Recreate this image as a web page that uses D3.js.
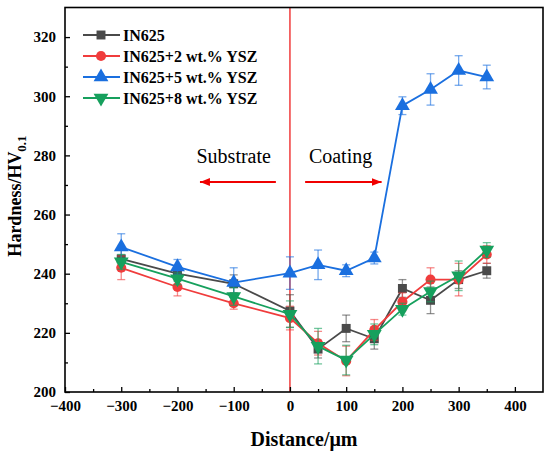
<!DOCTYPE html>
<html>
<head>
<meta charset="utf-8">
<script src="https://cdn.jsdelivr.net/npm/d3@7"></script>
<style>
  body { margin: 0; background: #fff; }
  svg { display: block; font-family: "Liberation Serif", "Times New Roman", serif; }
</style>
</head>
<body>
<script>
// distances (um) and hardness values
var distance = [-300, -200, -100, 0, 50, 100, 150, 200, 250, 300, 350];
var in625   = [245, 240, 236.6, 227.4, 214.5, 221.5, 218, 235, 231, 238, 241];
var ysz2    = [242, 235.5, 230, 225, 216.5, 210.5, 221, 230.5, 238, 238, 246.5];
var ysz5    = [249, 242.3, 237, 240.2, 243, 241, 245.3, 296.8, 302.3, 308.7, 306.5];
var ysz8    = [244, 238.3, 232.3, 226.3, 215.5, 210.8, 219.5, 228, 234, 239.3, 248];
var err625  = [3, 2.5, 3, 5.5, 3, 4.5, 3.5, 3, 4.5, 3, 2.5];
var err2    = [4, 3, 2, 4, 4, 5, 3.5, 3, 4, 5.5, 3];
var err5    = [4.5, 2.5, 5, 5.5, 5, 2, 2, 3, 5.3, 5, 4];
var err8    = [2.5, 2, 3, 4.5, 6, 5, 3.5, 2, 3.5, 5, 2.5];
var seriesNames = ["IN625", "IN625+2 wt.% YSZ", "IN625+5 wt.% YSZ", "IN625+8 wt.% YSZ"];
var xTicks = [-400, -300, -200, -100, 0, 100, 200, 300, 400];
var yTicks = [200, 220, 240, 260, 280, 300, 320];

// annotation: region labels and arrows (data units)
var regionLabels = ["Substrate", "Coating"];
var regionLabelX = [-100, 90];
var arrowFrom = [-25, 27];
var arrowTo = [-160, 163];
var labelY = 277.5, arrowY = 271;

var W = 550, H = 456;
var margin = {top: 7.5, right: 7, bottom: 64, left: 65},
    width = W - margin.left - margin.right,
    height = H - margin.top - margin.bottom;

var x = d3.scaleLinear().domain([-400, 450]).range([0, width]);
var y = d3.scaleLinear().domain([200, 330]).range([height, 0]);

var colors = ["#4a4a4a", "#f03c3c", "#1a6fdf", "#16a05d"];
var symbols = [d3.symbolSquare, d3.symbolCircle, d3.symbolTriangle, d3.symbolTriangle];
var symSize = [80, 80, 95, 95];
var rot = [0, 0, 0, 180];

var values = [in625, ysz2, ysz5, ysz8];
var errs = [err625, err2, err5, err8];
var series = seriesNames.map(function(n, i) {
  return {name: n, i: i, pts: distance.map(function(d, j) {
    return {x: d, y: values[i][j], e: errs[i][j]};
  })};
});

var svg = d3.select("body").append("svg")
    .attr("width", W).attr("height", H);
var g = svg.append("g")
    .attr("transform", "translate(" + margin.left + "," + margin.top + ")");

// red interface line at 0
g.append("line")
  .attr("x1", x(0)).attr("x2", x(0))
  .attr("y1", 0).attr("y2", height)
  .attr("stroke", "#f03c3c").attr("stroke-width", 1.5);

// arrows + labels
var defs = svg.append("defs");
defs.append("marker")
  .attr("id", "arrowhead")
  .attr("viewBox", "0 0 10 8")
  .attr("refX", 10).attr("refY", 4)
  .attr("markerWidth", 10).attr("markerHeight", 8)
  .attr("markerUnits", "userSpaceOnUse")
  .attr("orient", "auto")
  .append("path").attr("d", "M0,0L10,4L0,8Z").attr("fill", "#f00000");

regionLabels.forEach(function(t, i) {
  g.append("line")
    .attr("x1", x(arrowFrom[i])).attr("x2", x(arrowTo[i]))
    .attr("y1", y(arrowY)).attr("y2", y(arrowY))
    .attr("stroke", "#f00000").attr("stroke-width", 2)
    .attr("marker-end", "url(#arrowhead)");
  g.append("text")
    .attr("x", x(regionLabelX[i])).attr("y", y(labelY))
    .attr("text-anchor", "middle")
    .style("font-size", "20px")
    .text(t);
});

// series
var line = d3.line().x(function(d) { return x(d.x); }).y(function(d) { return y(d.y); });

series.forEach(function(s) {
  var c = colors[s.i];
  var sg = g.append("g");
  // error bars
  var eb = sg.selectAll(".eb").data(s.pts).enter().append("g")
    .attr("stroke", c).attr("stroke-opacity", 0.6).attr("stroke-width", 1.3);
  eb.append("line")
    .attr("x1", function(d) { return x(d.x); }).attr("x2", function(d) { return x(d.x); })
    .attr("y1", function(d) { return y(d.y - d.e); }).attr("y2", function(d) { return y(d.y + d.e); });
  eb.append("line")
    .attr("x1", function(d) { return x(d.x) - 4; }).attr("x2", function(d) { return x(d.x) + 4; })
    .attr("y1", function(d) { return y(d.y + d.e); }).attr("y2", function(d) { return y(d.y + d.e); });
  eb.append("line")
    .attr("x1", function(d) { return x(d.x) - 4; }).attr("x2", function(d) { return x(d.x) + 4; })
    .attr("y1", function(d) { return y(d.y - d.e); }).attr("y2", function(d) { return y(d.y - d.e); });

  sg.append("path").datum(s.pts)
    .attr("d", line).attr("fill", "none")
    .attr("stroke", c).attr("stroke-width", 1.8);

  sg.selectAll(".pt").data(s.pts).enter().append("path")
    .attr("d", d3.symbol().type(symbols[s.i]).size(symSize[s.i]))
    .attr("transform", function(d) {
      return "translate(" + x(d.x) + "," + y(d.y) + ") rotate(" + rot[s.i] + ")";
    })
    .attr("fill", c);
});

// axes (ticks inward)
var xAxis = g.append("g").attr("transform", "translate(0," + height + ")")
  .call(d3.axisBottom(x).tickValues(xTicks).tickSize(-5).tickPadding(8)
        .tickFormat(function(d) { return d < 0 ? "\u2212" + Math.abs(d) : d; }));
var xMinor = g.append("g").attr("transform", "translate(0," + height + ")")
  .call(d3.axisBottom(x).tickValues(d3.range(-350, 450, 100)).tickSize(-3).tickFormat(""));
var yAxis = g.append("g")
  .call(d3.axisLeft(y).tickValues(yTicks).tickSize(-5).tickPadding(9));
var yMinor = g.append("g")
  .call(d3.axisLeft(y).tickValues(d3.range(210, 330, 20)).tickSize(-3).tickFormat(""));

[xAxis, xMinor, yAxis, yMinor].forEach(function(a) {
  a.select(".domain").remove();
  a.selectAll("line").attr("stroke", "#000").attr("stroke-width", 1.3);
  a.selectAll("text").style("font-size", "15px").style("font-weight", "bold")
    .style("font-family", "'Liberation Serif', serif").attr("fill", "#000");
});

// frame
g.append("rect").attr("width", width).attr("height", height)
  .attr("fill", "none").attr("stroke", "#000").attr("stroke-width", 1.6);

// axis titles
svg.append("text")
  .attr("x", margin.left + width / 2).attr("y", 446)
  .attr("text-anchor", "middle")
  .style("font-size", "20px").style("font-weight", "bold")
  .text("Distance/\u03bcm");

var yt = svg.append("text")
  .attr("transform", "translate(21,196) rotate(-90)")
  .attr("text-anchor", "middle")
  .style("font-size", "18px").style("font-weight", "bold");
yt.append("tspan").text("Hardness/HV");
yt.append("tspan").attr("dy", 5).style("font-size", "13px").text("0.1");

// legend
var leg = svg.append("g").attr("transform", "translate(83,35)");
series.forEach(function(s, i) {
  var row = leg.append("g").attr("transform", "translate(0," + (i * 21) + ")");
  row.append("line").attr("x1", 0).attr("x2", 37).attr("y1", 0).attr("y2", 0)
    .attr("stroke", colors[i]).attr("stroke-width", 1.8);
  row.append("path")
    .attr("d", d3.symbol().type(symbols[i]).size(symSize[i]))
    .attr("transform", "translate(18,0) rotate(" + rot[i] + ")")
    .attr("fill", colors[i]);
  row.append("text").attr("x", 40).attr("y", 5.5)
    .style("font-size", "16px").style("font-weight", "bold")
    .text(s.name);
});
</script>
</body>
</html>
